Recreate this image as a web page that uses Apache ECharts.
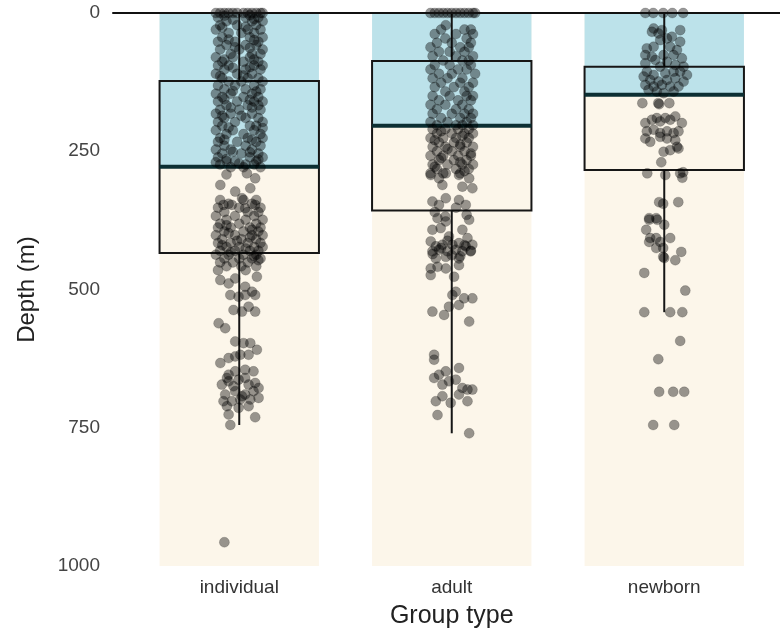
<!DOCTYPE html>
<html>
<head>
<meta charset="utf-8">
<script src="https://cdn.jsdelivr.net/npm/echarts@6/dist/echarts.min.js"></script>
<style>
html,body{margin:0;padding:0;background:#fff;}
#chart{width:780px;height:634px;}
</style>
</head>
<body>
<div id="chart"></div>
<script>
// ---------------- data ----------------
const categories = ['individual', 'adult', 'newborn'];
const yTicks = [0, 250, 500, 750, 1000];
// background layers (depth in m)
const lowerLayerDepth = [1000, 1000, 1000];
const upperLayerDepth = [278, 204, 148];
// box statistics: [lower whisker, Q1, median, Q3, upper whisker]
const boxIndividual = [0, 123, 278, 434, 745];
const boxAdult = [0, 87, 204, 357, 760];
const boxNewborn = [0, 97, 148, 284, 541];
// jittered observations: [horizontal jitter (category units), depth]
const ptsIndividual = [
[-0.11,0],[-0.09,0],[-0.07,0],[-0.05,0],[-0.03,0],[-0.01,0],[0.02,0],[0.04,0],[0.06,0],[0.08,0],[0.10,0],[0.11,0],
[-0.10,8],[0.03,8],[0.09,8],[-0.06,15],[0.06,15],[0.11,15],[-0.09,22],[-0.01,22],[0.08,22],
[-0.11,30],[0.04,30],[0.10,30],[-0.05,36],[0.01,36],[0.07,36],[-0.08,44],[0.05,44],[0.11,44],
[-0.10,52],[-0.02,52],[0.09,52],[-0.06,58],[0.03,58],[0.08,58],[-0.09,66],[0.00,66],[0.11,66],
[-0.04,74],[0.06,74],[0.10,74],[-0.11,80],[-0.03,80],[0.05,80],[-0.08,88],[0.02,88],[0.09,88],
[-0.10,95],[-0.05,95],[0.07,95],[0.11,95],[-0.07,102],[0.03,102],[0.10,102],[-0.11,110],[-0.01,110],[0.06,110],
[-0.08,118],[0.04,118],[0.09,118],[-0.05,124],[0.01,124],[0.11,124],[-0.10,131],[0.07,131],[-0.02,131],
[-0.07,138],[0.03,138],[0.10,138],[-0.11,146],[-0.04,146],[0.06,146],[-0.08,152],[0.02,152],[0.09,152],
[-0.10,160],[-0.01,160],[0.07,160],[0.11,160],[-0.06,167],[0.04,167],[0.09,167],[-0.09,175],[0.00,175],[0.10,175],
[-0.11,182],[-0.04,182],[0.06,182],[-0.07,190],[0.03,190],[0.09,190],[-0.10,197],[-0.02,197],[0.11,197],
[-0.08,204],[0.05,204],[0.08,204],[-0.11,212],[-0.03,212],[0.07,212],[-0.06,219],[0.02,219],[0.10,219],
[-0.09,226],[0.04,226],[0.11,226],[-0.10,233],[-0.01,233],[0.08,233],[-0.07,240],[0.03,240],[0.10,240],
[-0.11,247],[-0.04,247],[0.06,247],[-0.08,254],[0.01,254],[0.09,254],[-0.10,261],[0.05,261],[0.11,261],
[-0.06,268],[-0.02,268],[0.08,268],[-0.09,274],[0.03,274],[0.07,274],[-0.04,279],[0.02,279],[0.10,279],
[-0.07,5],[0.05,4],[-0.03,12],[0.07,11],[-0.08,26],[0.03,25],[-0.05,48],[0.07,49],[-0.02,62],[0.05,63],
[-0.07,84],[0.07,84],[-0.03,99],[0.05,98],[-0.09,114],[0.02,113],[-0.03,141],[0.08,142],[-0.07,156],[0.05,157],
[-0.04,171],[0.06,171],[-0.08,186],[0.01,186],[-0.05,207],[0.11,208],[-0.07,229],[0.06,229],[-0.03,251],[0.05,252],
[-0.06,264],[0.09,265],[-0.11,270],[0.00,272],
[0.036,290],[-0.06,292],[0.075,299],[-0.089,311],[0.052,317],[-0.019,323],[0.013,335],[-0.074,347],[-0.035,347],[0.028,353],[0.075,347],
[-0.09,338],[0.02,338],[0.08,338],[-0.05,345],[0.06,345],[-0.10,352],[0.00,352],[0.10,352],
[-0.07,360],[0.04,360],[0.09,360],[-0.11,367],[-0.02,367],[0.07,367],[-0.06,374],[0.03,374],[0.11,374],
[-0.09,381],[0.00,381],[0.08,381],[-0.10,388],[-0.04,388],[0.05,388],[0.10,388],[-0.07,395],[0.02,395],[0.09,395],
[-0.11,402],[-0.02,402],[0.06,402],[0.11,402],[-0.08,409],[0.01,409],[0.08,409],[-0.10,416],[-0.04,416],[0.04,416],[0.10,416],
[-0.06,423],[0.00,423],[0.07,423],[0.11,423],[-0.09,430],[-0.02,430],[0.05,430],[0.09,430],
[-0.11,437],[-0.05,437],[0.02,437],[0.08,437],[-0.07,444],[0.00,444],[0.06,444],[0.10,444],
[-0.09,451],[-0.03,451],[0.04,451],[-0.06,458],[0.01,458],[0.08,458],[-0.10,465],[0.03,465],
[-0.05,398],[0.05,406],[-0.08,420],[0.03,426],[-0.04,433],[0.07,440],[-0.01,412],[0.09,447],[-0.06,384],[0.06,392],
[-0.089,483],[-0.050,489],[-0.019,480],[0.028,495],[0.060,504],[0.083,477],[-0.042,510],[-0.003,513],[0.028,510],[0.075,510],
[-0.027,537],[0.013,540],[0.044,531],[0.075,540],[-0.097,561],[-0.066,570],[-0.019,594],[0.020,597],[0.052,597],[0.083,609],
[-0.089,633],[-0.050,624],[-0.019,621],[0.005,618],[0.044,618],[-0.050,654],[-0.019,648],[0.028,645],[0.067,648],
[-0.082,672],[-0.050,666],[-0.003,663],[0.028,660],[0.075,669],[0.091,678],[-0.066,690],[-0.019,684],[0.028,690],[0.067,684],
[-0.074,702],[-0.035,702],[0.013,693],[0.052,699],[0.091,696],[-0.058,660],[-0.027,675],[0.044,672],[0.005,699],
[-0.058,711],[-0.003,714],[0.044,711],[-0.050,726],[-0.042,745],[0.075,731],[-0.07,957]
];
const ptsAdult = [
[-0.10,0],[-0.08,0],[-0.06,0],[-0.04,0],[-0.02,0],[0.00,0],[0.02,0],[0.04,0],[0.06,0],[0.08,0],[0.10,0],[0.11,0],
[-0.028,22],[-0.05,30],[0.06,30],[0.09,30],[-0.08,38],[0.02,38],[0.10,38],[-0.03,46],[0.07,46],
[-0.07,54],[0.00,54],[0.09,54],[-0.10,62],[0.04,62],[0.08,62],[-0.06,70],[-0.01,70],[0.06,70],
[-0.09,78],[0.02,78],[0.10,78],[-0.04,86],[0.05,86],[0.08,86],[-0.08,94],[-0.01,94],[0.09,94],
[-0.10,102],[0.03,102],[0.07,102],[-0.06,110],[0.00,110],[0.11,110],[-0.09,118],[-0.02,118],[0.05,118],
[-0.05,126],[0.04,126],[0.10,126],[-0.08,134],[0.01,134],[0.08,134],[-0.03,142],[0.06,142],
[-0.09,150],[-0.01,150],[0.07,150],[0.10,150],[-0.06,158],[0.03,158],[0.09,158],[-0.10,166],[-0.03,166],[0.05,166],
[-0.07,174],[0.02,174],[0.08,174],[-0.09,182],[0.00,182],[0.06,182],[0.10,182],[-0.05,190],[0.04,190],[0.09,190],
[-0.10,197],[-0.02,197],[0.07,197],[-0.07,203],[0.02,203],[0.05,203],[0.10,203],
[-0.09,210],[-0.03,210],[0.03,210],[0.08,210],[-0.07,218],[0.00,218],[0.06,218],[0.10,218],
[-0.10,226],[-0.04,226],[0.02,226],[0.08,226],[-0.06,234],[0.01,234],[0.07,234],
[-0.09,242],[-0.03,242],[0.04,242],[0.10,242],[-0.07,250],[0.00,250],[0.06,250],
[-0.10,258],[-0.04,258],[0.03,258],[0.09,258],[-0.06,266],[0.01,266],[0.07,266],
[-0.09,274],[-0.02,274],[0.05,274],[0.10,274],[-0.07,282],[0.02,282],[0.08,282],[-0.10,290],[-0.04,290],[0.04,290],
[-0.05,214],[0.05,222],[-0.08,230],[0.04,238],[-0.02,246],[0.09,254],[-0.05,262],[0.04,270],[-0.08,278],[0.06,286],
[-0.099,293],[-0.060,299],[-0.028,290],[0.034,293],[0.082,299],[-0.044,311],[0.050,314],[0.097,317],
[-0.091,341],[-0.060,347],[-0.028,335],[0.034,338],[0.066,347],
[-0.08,360],[0.02,352],[0.07,365],[-0.03,368],
[-0.067,371],[-0.028,377],[0.082,374],[-0.091,392],[-0.052,389],[0.050,392],[-0.013,404],[0.074,407],
[-0.099,413],[-0.075,422],[-0.044,419],[0.003,419],[0.034,416],[0.066,422],[0.097,419],
[-0.091,431],[-0.060,428],[-0.020,431],[0.019,428],[0.050,431],[0.089,431],[-0.075,444],[-0.028,441],[0.034,444],
[-0.05,425],[0.06,420],[-0.09,436],[0.00,438],[0.09,430],[-0.02,412],[0.04,440],
[-0.099,462],[-0.067,459],[-0.028,462],[0.034,456],[-0.099,474],[0.011,477],
[0.003,510],[0.019,504],[-0.013,531],[0.034,528],[0.058,516],[0.097,516],[-0.091,540],[-0.036,546],[0.082,558],
[-0.083,618],[-0.083,627],[-0.083,660],[-0.060,654],[-0.028,648],[0.034,642],
[-0.044,672],[-0.013,666],[0.019,663],[0.050,678],[0.074,681],[0.097,681],
[-0.075,702],[-0.044,693],[-0.005,705],[0.034,690],[0.074,702],[-0.067,727],[0.082,760]
];
const ptsNewborn = [
[-0.089,0],[-0.052,0],[-0.005,0],[0.038,0],[0.089,0],
[-0.050,28],[-0.058,34],[-0.027,37],[-0.011,31],[0.075,31],[0.013,46],[-0.019,49],[0.036,43],
[-0.082,64],[-0.050,61],[0.028,61],[0.075,52],[0.060,67],[-0.089,76],[-0.058,79],[-0.003,76],[0.044,76],
[0.083,82],[-0.042,85],[0.013,88],[-0.089,91],[-0.019,97],[0.052,94],[0.091,97],
[-0.082,106],[-0.050,112],[0.005,109],[0.044,106],[0.075,106],[0.107,112],[-0.097,115],[-0.066,121],
[-0.027,124],[0.013,121],[0.052,118],[0.091,124],[-0.089,130],[-0.050,133],[-0.011,130],[0.028,133],
[0.067,133],[-0.074,139],[-0.035,142],[0.044,142],[-0.003,145],
[-0.103,163],[-0.028,163],[-0.024,165],[0.024,163],
[-0.089,199],[-0.058,193],[-0.035,190],[-0.019,196],[0.005,190],[0.028,193],[0.052,187],[0.083,199],
[-0.082,214],[-0.050,211],[-0.019,217],[0.013,214],[0.044,217],[0.067,214],
[-0.089,227],[-0.066,233],[-0.019,224],[0.013,227],[0.052,230],[0.067,245],[-0.003,251],[0.028,248],[0.060,242],
[-0.014,270],[-0.080,290],[0.005,293],[0.075,290],[0.089,288],[0.085,298],
[-0.024,342],[-0.005,345],[0.066,342],[-0.071,371],[-0.038,371],
[-0.071,374],[-0.033,374],[0.000,383],[-0.085,392],[-0.066,407],[-0.038,407],[0.028,407],[-0.071,414],[-0.019,414],
[-0.038,425],[-0.005,425],[-0.005,441],[0.000,443],[0.080,432],[0.052,447],[-0.094,470],[0.099,502],
[-0.094,541],[0.028,541],[0.085,541],[0.075,593],[-0.028,626],[-0.024,685],[0.042,685],[0.094,685],
[-0.052,745],[0.047,745]
];

// ---------------- chart ----------------
const boxes = [boxIndividual, boxAdult, boxNewborn];
const ptGroups = [ptsIndividual, ptsAdult, ptsNewborn];
const scatterData = [];
ptGroups.forEach((g, i) => g.forEach(p => scatterData.push([i + p[0], p[1]])));

const chart = echarts.init(document.getElementById('chart'), null, {renderer: 'canvas'});
const FONT = '"Liberation Sans", Arial, sans-serif';

const option = {
  animation: false,
  backgroundColor: '#ffffff',
  grid: [
    {left: 113, right: 0, top: 13, bottom: 68},
    {left: 133, width: 637.5, top: 13, bottom: 68}
  ],
  xAxis: [
    {gridIndex: 0, type: 'value', min: 0, max: 1, position: 'top',
     axisLine: {show: true, onZero: false, lineStyle: {color: '#111', width: 2}},
     axisTick: {show: false}, axisLabel: {show: false}, splitLine: {show: false}, z: 5},
    {gridIndex: 1, type: 'category', data: categories, position: 'bottom',
     axisLine: {show: false}, axisTick: {show: false}, splitLine: {show: false},
     axisLabel: {fontSize: 19, color: '#333', margin: 12, fontFamily: FONT},
     name: 'Group type', nameLocation: 'middle', nameGap: 38,
     nameTextStyle: {fontSize: 25, color: '#222', fontFamily: FONT}},
    {gridIndex: 1, type: 'value', min: -0.5, max: 2.5, show: false}
  ],
  yAxis: [
    {gridIndex: 0, type: 'value', inverse: true, min: 0, max: 1000, interval: 250,
     axisLine: {show: false}, axisTick: {show: false}, splitLine: {show: false},
     axisLabel: {fontSize: 19, color: '#444', margin: 13, fontFamily: FONT,
       customValues: yTicks, formatter: v => String(v)},
     name: 'Depth (m)', nameLocation: 'middle', nameGap: 74,
     nameTextStyle: {fontSize: 24, color: '#222', fontFamily: FONT}},
    {gridIndex: 1, type: 'value', inverse: true, min: 0, max: 1000, interval: 250, show: false}
  ],
  series: [
    {type: 'bar', xAxisIndex: 1, yAxisIndex: 1, data: lowerLayerDepth, barWidth: '75%', barGap: '-100%',
     itemStyle: {color: '#fcf6ea'}, z: 1, silent: true},
    {type: 'bar', xAxisIndex: 1, yAxisIndex: 1, data: upperLayerDepth, barWidth: '75%', barGap: '-100%',
     itemStyle: {color: '#bce2ea'}, z: 2, silent: true},
    {type: 'custom', xAxisIndex: 1, yAxisIndex: 1, z: 3,
     data: boxes.map((b, i) => [i].concat(b)),
     renderItem: function (params, api) {
       const x = api.value(0);
       const band = api.size([1, 0])[0];
       const half = band * 0.75 / 2;
       const pMin = api.coord([x, api.value(1)]);
       const pQ1 = api.coord([x, api.value(2)]);
       const pMed = api.coord([x, api.value(3)]);
       const pQ3 = api.coord([x, api.value(4)]);
       const pMax = api.coord([x, api.value(5)]);
       const cx = pMed[0];
       const stroke = {stroke: '#161616', lineWidth: 2, fill: null};
       return {type: 'group', children: [
         {type: 'line', shape: {x1: cx, y1: pMin[1], x2: cx, y2: pQ1[1]}, style: stroke},
         {type: 'line', shape: {x1: cx, y1: pQ3[1], x2: cx, y2: pMax[1]}, style: stroke},
         {type: 'rect', shape: {x: cx - half, y: pQ1[1], width: half * 2, height: pQ3[1] - pQ1[1]},
          style: {stroke: '#161616', lineWidth: 2, fill: 'rgba(0,0,0,0)'}},
         {type: 'line', shape: {x1: cx - half, y1: pMed[1], x2: cx + half, y2: pMed[1]},
          style: {stroke: '#0c2f33', lineWidth: 4}}
       ]};
     }},
    {type: 'scatter', xAxisIndex: 2, yAxisIndex: 1, data: scatterData, symbolSize: 10, z: 4,
     itemStyle: {color: 'rgba(0,0,0,0.5)', borderColor: 'rgba(0,0,0,0.25)', borderWidth: 0.8}, silent: true}
  ]
};
chart.setOption(option);
</script>
</body>
</html>
